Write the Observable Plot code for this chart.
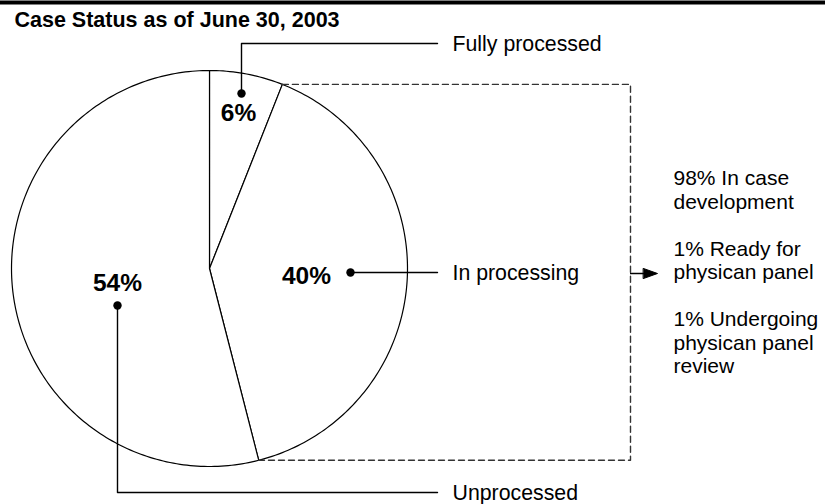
<!DOCTYPE html>
<html>
<head>
<meta charset="utf-8">
<script src="https://cdn.jsdelivr.net/npm/d3@7"></script>
<script src="https://cdn.jsdelivr.net/npm/@observablehq/plot@0.6"></script>
<style>
  html, body { margin: 0; padding: 0; background: #fff; }
</style>
</head>
<body>
<div id="chart"></div>
<script>
// ---- data ----
const title = "Case Status as of June 30, 2003";
const statuses = ["Fully processed", "In processing", "Unprocessed"];
const shares = [6, 40, 54];
const breakdownShares = [98, 1, 1];
const breakdownLabels = ["In case\ndevelopment", "Ready for\nphysican panel", "Undergoing\nphysican panel\nreview"];

// ---- layout (annotation positions) ----
const W = 825, H = 504;
const cx = 209, cy = 268, R = 198;
const font = "Liberation Sans, Arial, Helvetica, sans-serif";
const dots = [[241, 93], [350, 272], [117, 305]];
const pctPos = [[238, 113], [306, 276], [117, 283]];
const leaderEndX = 437, labelX = 452;
const labelY = [43, 272, 492];
const boxX = 630;

// pie geometry computed from the shares
const total = d3.sum(shares);
let acc = 0;
const angles = shares.map(v => { const a0 = acc / total * 2 * Math.PI; acc += v; return [a0, acc / total * 2 * Math.PI]; });
const pt = (a, r = R) => ({x: cx + r * Math.sin(a), y: cy - r * Math.cos(a)});

const slicePts = [];
angles.forEach(([a0, a1], i) => {
  slicePts.push({name: statuses[i], ...pt(0, 0)});
  const n = Math.max(4, Math.ceil((a1 - a0) / (Math.PI / 180)));
  for (let k = 0; k <= n; k++) slicePts.push({name: statuses[i], ...pt(a0 + (a1 - a0) * k / n)});
});

// leaders
const leaders = [];
statuses.forEach((s, i) => {
  const [dx, dy] = dots[i];
  if (i === 1) {
    leaders.push({name: s, x: dx, y: dy}, {name: s, x: leaderEndX, y: dy});
  } else {
    leaders.push({name: s, x: dx, y: dy}, {name: s, x: dx, y: labelY[i]}, {name: s, x: leaderEndX, y: labelY[i]});
  }
});

// dashed bracket around the "In processing" slice
const pA = pt(angles[1][0]), pB = pt(angles[1][1]);
const bracket = [pA, {x: boxX, y: pA.y}, {x: boxX, y: pB.y}, pB];

const arrowY = 273;
const arrowHead = [{x: 643, y: arrowY - 5}, {x: 657, y: arrowY}, {x: 643, y: arrowY + 5}];

const breakdownText = breakdownShares.map((v, i) => `${v}% ${breakdownLabels[i]}`).join("\n\n");

const chart = Plot.plot({
  width: W, height: H, margin: 0,
  x: {type: "identity", axis: null},
  y: {type: "identity", axis: null},
  style: {fontFamily: font, background: "#fff", color: "#000", overflow: "visible"},
  marks: [
    Plot.ruleY([2], {stroke: "#000", strokeWidth: 4}),
    Plot.text([title], {x: 14, y: 20, text: d => d, textAnchor: "start", fontWeight: "bold", fontSize: 21.5, fill: "#000"}),
    Plot.line(slicePts, {x: "x", y: "y", z: "name", curve: "linear-closed", fill: "#fff", stroke: "#000", strokeWidth: 1.2}),
    Plot.line(bracket, {x: "x", y: "y", stroke: "#333", strokeWidth: 1.4, strokeDasharray: "6,4"}),
    Plot.ruleY([arrowY], {x1: boxX, x2: 645, stroke: "#000", strokeWidth: 1.5}),
    Plot.line(arrowHead, {x: "x", y: "y", curve: "linear-closed", fill: "#000", stroke: "#000", strokeWidth: 1}),
    Plot.line(leaders, {x: "x", y: "y", z: "name", stroke: "#000", strokeWidth: 1.4}),
    Plot.dot(dots, {x: d => d[0], y: d => d[1], r: 4.2, fill: "#000", stroke: null}),
    Plot.text(shares, {x: (d, i) => pctPos[i][0], y: (d, i) => pctPos[i][1], text: d => `${d}%`, fontWeight: "bold", fontSize: 24.5, fill: "#000"}),
    Plot.text(statuses, {x: labelX, y: (d, i) => labelY[i] + 1, text: d => d, textAnchor: "start", fontSize: 21.3, fill: "#000"}),
    Plot.text([breakdownText], {x: 673, y: 168, text: d => d, textAnchor: "start", lineAnchor: "top", lineHeight: 1.12, fontSize: 21, fill: "#000"})
  ]
});
document.getElementById("chart").appendChild(chart);
</script>
</body>
</html>
